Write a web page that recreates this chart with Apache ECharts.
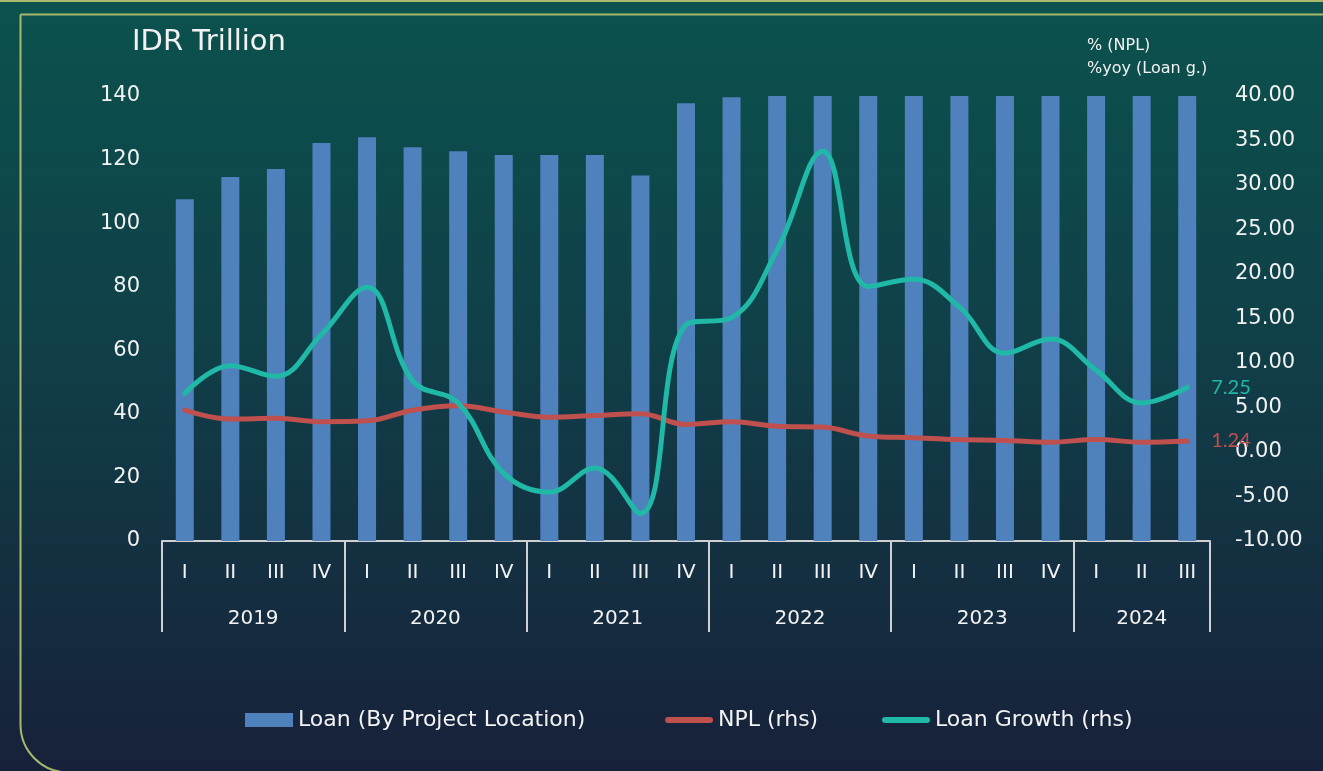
<!DOCTYPE html>
<html lang="en">

<head>
  <meta charset="UTF-8" />
  <title>Loan and NPL</title>
  <script src="https://cdn.jsdelivr.net/npm/echarts@6/dist/echarts.min.js"></script>
  <style>
    html, body {
      margin: 0;
      padding: 0;
      width: 100%;
      height: 100%;
      overflow: hidden;
    }

    #chart {
      width: 1323px;
      height: 771px;
    }
  </style>
</head>

<body>
  <div id="chart"></div>

  <script>
    // quarters and years for the two-level category axis
    const quarters = ['I', 'II', 'III', 'IV', 'I', 'II', 'III', 'IV', 'I', 'II', 'III', 'IV',
      'I', 'II', 'III', 'IV', 'I', 'II', 'III', 'IV', 'I', 'II', 'III'];
    const years = ['2019', '2020', '2021', '2022', '2023', '2024'];
    const quartersPerYear = [4, 4, 4, 4, 4, 3];

    // IDR trillion (left axis)
    const loan = [107.5, 114.5, 117, 125.2, 127, 123.9, 122.6, 121.4, 121.4, 121.4, 115, 137.7,
      139.6, 140, 140, 140, 140, 140, 140, 140, 140, 140, 140];
    // % (right axis)
    const npl = [4.7, 3.7, 3.8, 3.4, 3.5, 4.7, 5.2, 4.5, 3.9, 4.1, 4.3, 3.1,
      3.4, 2.9, 2.8, 1.8, 1.6, 1.4, 1.3, 1.1, 1.4, 1.1, 1.24];
    const loanGrowth = [6.6, 9.7, 8.5, 13.2, 18.5, 8.0, 5.5, -2.4, -4.5, -1.8, -6.9, 14.3,
      15.1, 22.7, 33.8, 18.6, 19.4, 16.3, 11.1, 12.7, 9.2, 5.5, 7.25];

    // year label sits in the middle of its group of quarters
    const yearCenters = {};
    const yearStarts = [];
    let start = 0;
    quartersPerYear.forEach((n, i) => {
      yearStarts.push(start);
      yearCenters[(start + n / 2).toFixed(1)] = years[i];
      start += n;
    });

    const font = '"DejaVu Sans", sans-serif';
    const textColor = '#f2f2f2';
    const lineIcon = 'path://M3,0 H45 A3,3 0 0 1 45,6 H3 A3,3 0 0 1 3,0 Z';

    const chart = echarts.init(document.getElementById('chart'));

    const legendBase = {
      top: 704,
      itemWidth: 48,
      itemHeight: 14,
      itemGap: 10,
      textStyle: { color: textColor, fontSize: 22, fontFamily: font }
    };

    const option = {
      backgroundColor: {
        type: 'linear', x: 0, y: 0, x2: 0, y2: 1,
        colorStops: [
          { offset: 0, color: '#0b524d' },
          { offset: 0.45, color: '#103f48' },
          { offset: 1, color: '#17213a' }
        ]
      },
      animation: false,
      textStyle: { fontFamily: font },
      graphic: [
        {
          type: 'rect',
          left: 18, top: 12,
          shape: { width: 1360, height: 758, r: [0, 0, 48, 48] },
          style: { fill: 'none', stroke: '#a8b96e', lineWidth: 2 }
        },
        {
          type: 'rect',
          left: 0, top: 0,
          shape: { width: 1323, height: 2 },
          style: { fill: '#a8b96e' }
        },
        {
          type: 'text',
          left: 132, top: 28,
          style: { text: 'IDR Trillion', fill: textColor, font: '29px ' + font }
        },
        {
          type: 'text',
          left: 1087, top: 34,
          style: {
            text: '% (NPL)\n%yoy (Loan g.)',
            fill: textColor, font: '16px ' + font, lineHeight: 23
          }
        }
      ],
      grid: { left: 162, right: 113, top: 96, bottom: 230 },
      legend: [
        Object.assign({}, legendBase, {
          left: 240,
          data: [{ name: 'Loan (By Project Location)', icon: 'rect' }]
        }),
        Object.assign({}, legendBase, {
          left: 660,
          data: [{ name: 'NPL (rhs)', icon: lineIcon }]
        }),
        Object.assign({}, legendBase, {
          left: 877,
          data: [{ name: 'Loan Growth (rhs)', icon: lineIcon }]
        })
      ],
      xAxis: [
        {
          type: 'category',
          data: quarters,
          position: 'bottom',
          axisLine: { lineStyle: { color: '#d0d0d0', width: 2 } },
          axisTick: {
            show: true,
            length: 91,
            interval: (idx) => yearStarts.includes(idx),
            lineStyle: { color: '#d0d0d0', width: 2 }
          },
          axisLabel: { color: textColor, fontSize: 20, margin: 22, interval: 0 },
          splitLine: { show: false }
        },
        {
          type: 'value',
          position: 'bottom',
          min: 0,
          max: quarters.length,
          interval: 0.5,
          axisLine: { show: false },
          axisTick: { show: false },
          splitLine: { show: false },
          axisLabel: {
            color: textColor,
            fontSize: 20,
            margin: 68,
            formatter: (v) => yearCenters[v.toFixed(1)] || ''
          }
        }
      ],
      yAxis: [
        {
          type: 'value',
          min: 0,
          max: 140,
          interval: 20,
          axisLine: { show: false },
          axisTick: { show: false },
          splitLine: { show: false },
          axisLabel: { color: textColor, fontSize: 21, margin: 22, padding: [4, 0, 0, 0] }
        },
        {
          type: 'value',
          min: -10,
          max: 40,
          interval: 5,
          axisLine: { show: false },
          axisTick: { show: false },
          splitLine: { show: false },
          axisLabel: {
            color: textColor, fontSize: 21, margin: 25, padding: [4, 0, 0, 0],
            formatter: (v) => v.toFixed(2)
          }
        }
      ],
      series: [
        {
          name: 'Loan (By Project Location)',
          type: 'bar',
          data: loan,
          barWidth: 18,
          itemStyle: { color: '#4f81bd' }
        },
        {
          name: 'NPL (rhs)',
          type: 'line',
          yAxisIndex: 1,
          data: npl,
          smooth: 0.4,
          symbol: 'none',
          lineStyle: { color: '#c0504d', width: 5, cap: 'round' },
          itemStyle: { color: '#c0504d' },
          endLabel: {
            show: true,
            distance: 24,
            color: '#c0504d',
            fontSize: 20,
            fontFamily: 'Lato, sans-serif',
            formatter: (p) => p.value.toFixed(2)
          }
        },
        {
          name: 'Loan Growth (rhs)',
          type: 'line',
          yAxisIndex: 1,
          data: loanGrowth,
          smooth: 0.4,
          symbol: 'none',
          lineStyle: { color: '#20b8a6', width: 5, cap: 'round' },
          itemStyle: { color: '#20b8a6' },
          endLabel: {
            show: true,
            distance: 24,
            color: '#20b8a6',
            fontSize: 20,
            fontFamily: 'Lato, sans-serif',
            formatter: (p) => p.value.toFixed(2)
          }
        }
      ]
    };

    chart.setOption(option);
    window.addEventListener('resize', () => chart.resize());
  </script>
</body>

</html>
